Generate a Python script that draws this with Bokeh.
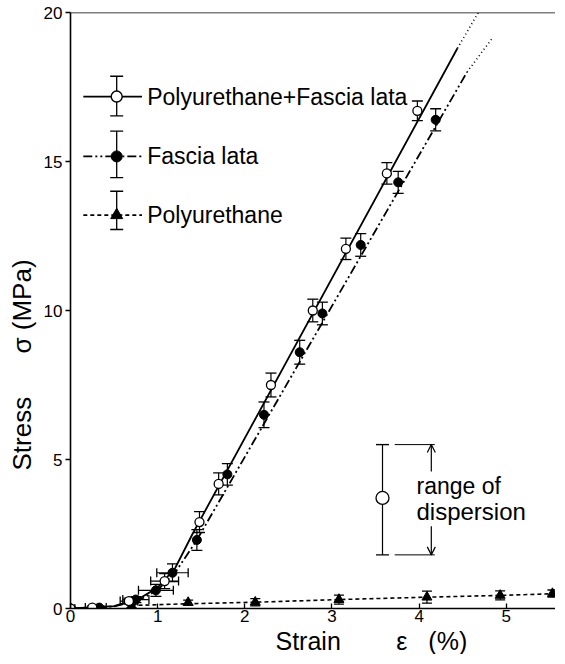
import math
from bokeh.plotting import figure
from bokeh.models import Range1d, FixedTicker, Label, Span, Arrow, OpenHead, Title
from bokeh.embed import file_html
from bokeh.resources import INLINE

# ---------------- data ----------------
pf_x = [0.0, 0.25, 0.67, 1.08, 1.48, 1.70, 2.30, 2.78, 3.16, 3.63, 3.98]
pf_y = [0.0, 0.03, 0.25, 0.92, 2.90, 4.18, 7.50, 10.00, 12.07, 14.60, 16.70]
pf_yerr = [0.05, 0.05, 0.10, 0.25, 0.35, 0.37, 0.40, 0.38, 0.36, 0.36, 0.33]
pf_xerr = [0.05, 0.08, 0.10, 0.16, 0.0, 0.0, 0.0, 0.0, 0.0, 0.0, 0.0]

fl_x = [0.33, 0.75, 0.98, 1.17, 1.45, 1.80, 2.22, 2.63, 2.89, 3.33, 3.76, 4.19]
fl_y = [0.03, 0.30, 0.61, 1.20, 2.30, 4.50, 6.50, 8.60, 9.90, 12.20, 14.30, 16.40]
fl_yerr = [0.05, 0.10, 0.20, 0.30, 0.35, 0.36, 0.43, 0.40, 0.38, 0.38, 0.37, 0.37]
fl_xerr = [0.08, 0.15, 0.20, 0.18, 0.0, 0.0, 0.0, 0.0, 0.0, 0.0, 0.0, 0.0]

pu_x = [0.0, 0.70, 1.35, 2.12, 3.08, 4.09, 4.93, 5.53]
pu_y = [0.0, 0.08, 0.20, 0.21, 0.30, 0.38, 0.44, 0.50]
pu_yerr = [0.04, 0.05, 0.08, 0.12, 0.15, 0.20, 0.15, 0.12]

# fitted curves drawn in the figure
pf_curve_x = [0.0, 0.5, 0.8, 1.0, 1.2, 1.4, 4.44]
pf_curve_y = [0.0, 0.08, 0.35, 0.70, 1.35, 2.50, 18.8]
pf_ext_x = [4.44, 4.68]
pf_ext_y = [18.8, 20.0]

fl_curve_x = [0.0, 0.5, 0.8, 1.0, 1.2, 1.45, 4.55]
fl_curve_y = [0.0, 0.07, 0.30, 0.62, 1.20, 2.30, 18.0]
fl_ext_x = [4.55, 4.83]
fl_ext_y = [18.0, 19.1]

pu_curve_x = [0.70, 1.35, 2.12, 3.08, 4.09, 4.93, 5.6]
pu_curve_y = [0.10, 0.16, 0.21, 0.30, 0.38, 0.44, 0.50]

x_ticks = [0, 1, 2, 3, 4, 5]
y_ticks = [0, 5, 10, 15, 20]

series_names = ["Polyurethane+Fascia lata", "Fascia lata", "Polyurethane"]
NB = "\u00a0"
x_title = "Strain" + NB * 8 + "ε" + NB * 3 + "(%)"
y_title = "Stress" + NB * 6 + "σ" + NB * 1 + "(MPa)"

# dispersion example
disp_x, disp_y, disp_lo, disp_hi = 3.58, 3.71, 1.8, 5.5

# ---------------- figure ----------------
FONT = "Liberation Sans"
p = figure(width=555, height=654, output_backend="svg", toolbar_location=None,
           x_range=Range1d(0, 5.565), y_range=Range1d(0, 20),
           min_border_left=62, min_border_right=0, min_border_top=12,
           min_border_bottom=0)
p.outline_line_color = None
p.grid.visible = False
p.background_fill_color = "white"
p.title.visible = False

for ax in (p.xaxis[0], p.yaxis[0]):
    ax.axis_line_width = 1.6
    ax.axis_line_color = "black"
    ax.major_tick_line_color = "black"
    ax.major_tick_line_width = 1.3
    ax.minor_tick_line_color = None
    ax.major_label_text_font = FONT
    ax.major_label_text_font_size = "17px"
    ax.major_label_text_color = "black"

p.xaxis.ticker = FixedTicker(ticks=x_ticks)
p.yaxis.ticker = FixedTicker(ticks=y_ticks)
p.xaxis.major_tick_in = 5
p.xaxis.major_tick_out = 0
p.yaxis.major_tick_in = 0
p.yaxis.major_tick_out = 5
p.xaxis.major_label_standoff = 1
p.yaxis.major_label_standoff = 3

# axis titles as side titles, offset along the frame
p.add_layout(Title(text=x_title, align="left", offset=205, text_font=FONT,
                   text_font_size="25px", text_font_style="normal", text_color="black",
                   standoff=0), "below")
p.add_layout(Title(text=y_title, align="left", offset=138, text_font=FONT,
                   text_font_size="26px", text_font_style="normal", text_color="black",
                   standoff=8), "left")

p.add_layout(Span(location=20, dimension="width", line_color="black", line_width=1.6))

BLK = "black"

def errbars(xs, ys, yerr, xerr=None, cap=11):
    p.segment(xs, [y - e for y, e in zip(ys, yerr)], xs, [y + e for y, e in zip(ys, yerr)],
              line_color=BLK, line_width=1.2)
    p.scatter(xs, [y - e for y, e in zip(ys, yerr)], marker="dash", size=cap, line_color=BLK, line_width=1.3)
    p.scatter(xs, [y + e for y, e in zip(ys, yerr)], marker="dash", size=cap, line_color=BLK, line_width=1.3)
    if xerr is not None:
        hx, hy, hl, hr = [], [], [], []
        for x, y, e in zip(xs, ys, xerr):
            if e > 0:
                hx.append(x); hy.append(y); hl.append(x - e); hr.append(x + e)
        p.segment(hl, hy, hr, hy, line_color=BLK, line_width=1.2)
        p.scatter(hl, hy, marker="dash", angle=math.pi / 2, size=9, line_color=BLK, line_width=1.3)
        p.scatter(hr, hy, marker="dash", angle=math.pi / 2, size=9, line_color=BLK, line_width=1.3)

# curves
p.line(pf_curve_x, pf_curve_y, line_color=BLK, line_width=1.8)
p.line(pf_ext_x, pf_ext_y, line_color=BLK, line_width=1.6, line_dash="1 3")
p.line(fl_curve_x, fl_curve_y, line_color=BLK, line_width=1.8, line_dash="9 3 2 3 2 3")
p.line(fl_ext_x, fl_ext_y, line_color=BLK, line_width=1.6, line_dash="1 3")
p.line(pu_curve_x, pu_curve_y, line_color=BLK, line_width=1.6, line_dash="4 3")

errbars(pf_x, pf_y, pf_yerr, pf_xerr)
errbars(fl_x, fl_y, fl_yerr, fl_xerr)
errbars(pu_x, pu_y, pu_yerr, None, cap=10)

p.scatter(pu_x, pu_y, marker="triangle", size=10, fill_color=BLK, line_color=BLK)
p.scatter(fl_x, fl_y, marker="circle", size=9, fill_color=BLK, line_color=BLK)
p.scatter(pf_x, pf_y, marker="circle", size=9, fill_color="white", line_color=BLK, line_width=1.3)

# ---------------- legend (drawn by hand) ----------------
leg_y = [17.18, 15.17, 13.2]
leg_lo = [16.53, 14.46, 12.72]
leg_hi = [17.86, 16.02, 14.0]
lx0, lx1, lxm, ltx = 0.147, 0.82, 0.53, 0.88
dashes = ["solid", "9 3 2 3 2 3", "4 3"]
for i in range(3):
    p.line([lx0, lx1], [leg_y[i], leg_y[i]], line_color=BLK, line_width=1.8, line_dash=dashes[i])
    p.segment([lxm], [leg_lo[i]], [lxm], [leg_hi[i]], line_color=BLK, line_width=1.3)
    p.scatter([lxm, lxm], [leg_lo[i], leg_hi[i]], marker="dash", size=13, line_color=BLK, line_width=1.4)
p.scatter([lxm], [leg_y[2]], marker="triangle", size=12, fill_color=BLK, line_color=BLK)
p.scatter([lxm], [leg_y[1]], marker="circle", size=11, fill_color=BLK, line_color=BLK)
p.scatter([lxm], [leg_y[0]], marker="circle", size=11, fill_color="white", line_color=BLK, line_width=1.4)
for i, name in enumerate(series_names):
    p.add_layout(Label(x=ltx, y=leg_y[i], text=name, text_font=FONT, text_font_size="23px",
                       text_baseline="middle", text_align="left", text_color=BLK))

# ---------------- range of dispersion ----------------
p.segment([disp_x], [disp_lo], [disp_x], [disp_hi], line_color=BLK, line_width=1.2)
p.scatter([disp_x, disp_x], [disp_lo, disp_hi], marker="dash", size=13, line_color=BLK, line_width=1.4)
p.segment([3.72, 3.72], [disp_lo, disp_hi], [4.18, 4.18], [disp_lo, disp_hi], line_color=BLK, line_width=1.0)
p.scatter([disp_x], [disp_y], marker="circle", size=13, fill_color="white", line_color=BLK, line_width=1.3)
p.add_layout(Arrow(x_start=4.14, y_start=4.6, x_end=4.14, y_end=disp_hi, line_width=1.2,
                   end=OpenHead(size=8, line_width=1.2)))
p.add_layout(Arrow(x_start=4.14, y_start=2.76, x_end=4.14, y_end=disp_lo, line_width=1.2,
                   end=OpenHead(size=8, line_width=1.2)))
p.add_layout(Label(x=3.97, y=4.12, text="range of", text_font=FONT, text_font_size="23px",
                   text_baseline="middle", text_align="left", text_color=BLK))
p.add_layout(Label(x=3.97, y=3.27, text="dispersion", text_font=FONT, text_font_size="24px",
                   text_baseline="middle", text_align="left", text_color=BLK))

open("out.html", "w").write(file_html(p, INLINE))
